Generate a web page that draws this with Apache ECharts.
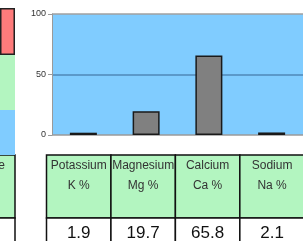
<!DOCTYPE html>
<html>
<head>
<meta charset="utf-8">
<script src="https://cdn.jsdelivr.net/npm/echarts@6/dist/echarts.min.js"></script>
<style>
  html, body { margin: 0; padding: 0; background: #fff; }
  #chart { width: 303px; height: 241px; }
</style>
</head>
<body>
<div id="chart"></div>
<script>
// nutrients shown in the bar chart and the table under it
const categories = ['K', 'Mg', 'Ca', 'Na']
const headNames = ['Potassium', 'Magnesium', 'Calcium', 'Sodium']
const headUnits = ['K %', 'Mg %', 'Ca %', 'Na %']
const values = [1.9, 19.7, 65.8, 2.1]
const yTicks = [0, 50, 100]
// the cut-off stacked bar on the left edge
const sideParts = ['blue', 'green', 'red']
const sideValues = [30.6, 37.4, 32.0]
const sideColors = ['#80ccff', '#b3f5c0', '#ff7b7b']

const chart = echarts.init(document.getElementById('chart'), null, { renderer: 'canvas' })
const font = 'Liberation Sans, Arial, sans-serif'

const option = {
  animation: false,
  grid: [
    { left: 52, top: 14, width: 267, height: 121, backgroundColor: '#80ccff', show: true, borderWidth: 0 },
    { left: -20, top: 8, width: 35, height: 147, show: false }
  ],
  xAxis: [
    {
      gridIndex: 0,
      type: 'category',
      data: categories,
      axisLine: { show: false },
      axisTick: { show: false },
      axisLabel: { show: false }
    },
    { gridIndex: 1, type: 'category', data: ['s'], show: false }
  ],
  yAxis: [
    {
      gridIndex: 0,
      type: 'value',
      min: yTicks[0],
      max: yTicks[yTicks.length - 1],
      interval: yTicks[1] - yTicks[0],
      axisLine: { show: true, lineStyle: { color: '#9a9a9a', width: 1 } },
      axisTick: { show: true, length: 4, lineStyle: { color: '#9a9a9a' } },
      axisLabel: { color: '#333', fontSize: 9, fontFamily: font, margin: 6 },
      splitLine: {
        show: true,
        lineStyle: { color: ['#9a9a9a', '#4f88b8', '#a0a0a0'], width: 1.5 }
      }
    },
    {
      gridIndex: 1,
      type: 'value',
      min: 0,
      max: sideValues.reduce((a, b) => a + b, 0),
      show: false
    }
  ],
  series: [
    {
      type: 'bar',
      xAxisIndex: 0,
      yAxisIndex: 0,
      data: values,
      barWidth: 27,
      itemStyle: { color: '#808080', borderColor: '#1a1a1a', borderWidth: 1.5 }
    },
    ...sideParts.map((name, i) => ({
      type: 'bar',
      name: name,
      xAxisIndex: 1,
      yAxisIndex: 1,
      stack: 'side',
      barWidth: '100%',
      data: [sideValues[i]],
      itemStyle: { color: sideColors[i], borderColor: '#222', borderWidth: i === 2 ? 1.5 : 0 }
    }))
  ]
}
chart.setOption(option)

// table under the chart, columns follow the category axis
const x0 = chart.convertToPixel({ xAxisIndex: 0 }, 0)
const x1 = chart.convertToPixel({ xAxisIndex: 0 }, 1)
const pitch = (x1 - x0) * 1.027
const tLeft = 46.5
const headTop = 155
const headH = 63
const rowH = 40
const cells = []
categories.forEach((c, i) => {
  const left = tLeft + i * pitch
  const cx = left + pitch / 2
  cells.push({
    type: 'rect',
    shape: { x: left, y: headTop, width: pitch, height: headH },
    style: { fill: '#b3f5c0', stroke: '#111', lineWidth: 1.5 }
  })
  cells.push({
    type: 'rect',
    shape: { x: left, y: headTop + headH, width: pitch, height: rowH },
    style: { fill: '#fff', stroke: '#111', lineWidth: 1.5 }
  })
  cells.push({
    type: 'text',
    style: { x: cx, y: 166, text: headNames[i], fill: '#333', font: '12px ' + font, textAlign: 'center', textVerticalAlign: 'middle' }
  })
  cells.push({
    type: 'text',
    style: { x: cx, y: 186, text: headUnits[i], fill: '#333', font: '12px ' + font, textAlign: 'center', textVerticalAlign: 'middle' }
  })
  cells.push({
    type: 'text',
    style: { x: cx, y: 233, text: values[i].toFixed(1), fill: '#111', font: '17px ' + font, textAlign: 'center', textVerticalAlign: 'middle' }
  })
})
// left table fragment
cells.push({
  type: 'rect',
  shape: { x: -60, y: headTop, width: 75, height: headH },
  style: { fill: '#b3f5c0', stroke: '#111', lineWidth: 1.5 }
})
cells.push({
  type: 'rect',
  shape: { x: -60, y: headTop + headH, width: 75, height: rowH },
  style: { fill: '#fff', stroke: '#111', lineWidth: 1.5 }
})
cells.push({
  type: 'text',
  style: { x: 5, y: 166, text: 'e', fill: '#333', font: '12px ' + font, textAlign: 'right', textVerticalAlign: 'middle' }
})

chart.setOption({ graphic: { elements: cells } })
</script>
</body>
</html>
